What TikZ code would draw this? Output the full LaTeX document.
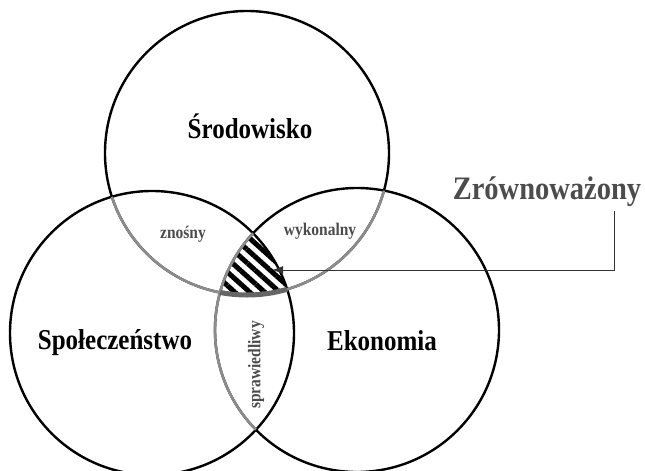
\documentclass[tikz,border=0pt]{standalone}
\usepackage{fontspec}
\setmainfont{Liberation Serif}
\usetikzlibrary{patterns.meta,arrows.meta}
\newcommand{\tall}[1]{\scalebox{1}[1.15]{#1}}

\begin{document}
\begin{tikzpicture}[x=1pt, y=-1pt, line width=2.4pt,
    title/.style={font=\fontsize{25}{25}\selectfont\bfseries},
    pair/.style={font=\fontsize{15.5}{15.5}\selectfont\bfseries, text=black!70},
    faint/.style={draw=black!45, line width=2.6pt}]
  \clip (0,0) rectangle (645,471);
  \coordinate (env) at (247,153);
  \coordinate (soc) at (152,333);
  \coordinate (eco) at (357,330);

  \begin{scope}
    \clip (env) circle (142);
    \clip (soc) circle (142);
    \fill[pattern={Lines[angle=-42,distance=10pt,line width=5pt]}] (eco) circle (142);
  \end{scope}

  \draw (env) circle (142);
  \draw (soc) circle (142);
  \draw (eco) circle (142);
  \begin{scope}
    \clip (soc) circle (142) (eco) circle (142);
    \draw[faint] (env) circle (142);
  \end{scope}
  \begin{scope}
    \clip (soc) circle (142);
    \draw[faint] (eco) circle (142);
  \end{scope}
  \begin{scope}
    \clip (soc) circle (142);
    \clip (eco) circle (142);
    \draw[black!60, line width=5pt] (env) circle (142);
  \end{scope}

  \node[title] (envlabel) at (250,126) {\tall{Środowisko}};
  \node[title] (soclabel) at (115,343) {\tall{Społeczeństwo}};
  \node[title] (ecolabel) at (382,341) {\tall{Ekonomia}};
  \node[pair] (tolerable) at (183,234) {\tall{znośny}};
  \node[pair] (viable) at (320,231) {\tall{wykonalny}};
  \node[pair, rotate=90] (equitable) at (256,365) {\tall{sprawiedliwy}};
  \node[font=\fontsize{28.5}{28.5}\selectfont\bfseries, text=black!70] (sust) at (547,192) {\tall{Zrównoważony}};

  \coordinate (from) at (614,211);
  \coordinate (tip) at (272,270);
  \draw[-{Latex[length=11pt,width=8pt]}, line width=1pt, black!80] (from) |- (tip);
\end{tikzpicture}
\end{document}
